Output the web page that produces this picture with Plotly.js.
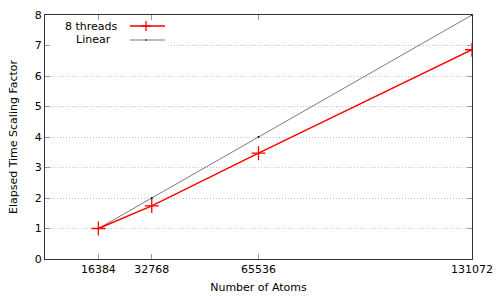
<!DOCTYPE html>
<html><head><meta charset="utf-8">
<script src="https://cdn.plot.ly/plotly-3.0.1.min.js"></script>
<style>html,body{margin:0;padding:0;background:#fff}#c{width:500px;height:300px}</style>
</head><body><div id="c"></div>
<script>
const atoms = [16384, 32768, 65536, 131072];
const threads8 = [1.0, 1.74, 3.47, 6.86];
const linear = [1, 2, 4, 8];
const xTickVals = [16384, 32768, 65536, 131072];
const xTickText = ['16384', '32768', '65536', '131072'];
const seriesNames = ['8 threads', 'Linear'];

const L = 45, R = 472, T = 15, B = 259;
const px = v => (v - L) / (R - L);
const py = v => (B - v) / (B - T);

const traces = [
  {x: atoms, y: linear, name: seriesNames[1], mode: 'lines+markers',
   line: {color: '#222', width: 0.6}, marker: {color: '#000', size: 2}, showlegend: false},
  {x: atoms, y: threads8, name: seriesNames[0], mode: 'lines+markers',
   line: {color: '#ff0000', width: 1.5},
   marker: {symbol: 'cross-thin', size: 10, line: {color: '#ff0000', width: 1.3}}, showlegend: false}
];

const font = {family: 'DejaVu Sans', size: 11, color: '#000'};
const layout = {
  width: 500, height: 300,
  margin: {l: L, r: 500 - R, t: T, b: 300 - B},
  paper_bgcolor: '#fff', plot_bgcolor: '#fff',
  font: font,
  showlegend: false,
  xaxis: {range: [0, 131072], tickvals: xTickVals, ticktext: xTickText,
    showgrid: false, zeroline: false, showline: true, linecolor: '#333', linewidth: 1,
    mirror: 'ticks', ticks: 'inside', ticklen: 5, tickcolor: '#999', tickwidth: 1,
    title: {text: 'Number of Atoms', font: font, standoff: 8}},
  yaxis: {range: [0, 8], dtick: 1, showgrid: true, gridcolor: '#c4c4c4', griddash: '1px,2px', gridwidth: 1,
    zeroline: false, showline: true, linecolor: '#333', linewidth: 1,
    mirror: 'ticks', ticks: 'inside', ticklen: 5, tickcolor: '#999', tickwidth: 1,
    title: {text: 'Elapsed Time Scaling Factor', font: font, standoff: 14}},
  shapes: [
    {type: 'rect', xref: 'paper', yref: 'paper', x0: px(51), x1: px(170), y0: py(50), y1: py(43),
     fillcolor: '#fff', line: {width: 0}, layer: 'above'},
    {type: 'line', xref: 'paper', yref: 'paper', x0: px(130), x1: px(165), y0: py(26), y1: py(26),
     line: {color: '#ff0000', width: 1.5}},
    {type: 'line', xref: 'paper', yref: 'paper', x0: px(146), x1: px(146), y0: py(21), y1: py(31),
     line: {color: '#ff0000', width: 1.3}},
    {type: 'line', xref: 'paper', yref: 'paper', x0: px(141), x1: px(151), y0: py(26), y1: py(26),
     line: {color: '#ff0000', width: 1.3}},
    {type: 'line', xref: 'paper', yref: 'paper', x0: px(130), x1: px(165), y0: py(40), y1: py(40),
     line: {color: '#222', width: 0.6}},
    {type: 'circle', xref: 'paper', yref: 'paper', x0: px(145.2), x1: px(146.8), y0: py(39.2), y1: py(40.8),
     fillcolor: '#000', line: {width: 0}}
  ],
  annotations: [
    {xref: 'paper', yref: 'paper', x: px(120), y: py(26), xanchor: 'right', yanchor: 'middle',
     text: seriesNames[0], showarrow: false, font: font},
    {xref: 'paper', yref: 'paper', x: px(113), y: py(40), xanchor: 'right', yanchor: 'middle',
     text: seriesNames[1], showarrow: false, font: font}
  ]
};
Plotly.newPlot('c', traces, layout, {displayModeBar: false, staticPlot: true});
</script></body></html>
